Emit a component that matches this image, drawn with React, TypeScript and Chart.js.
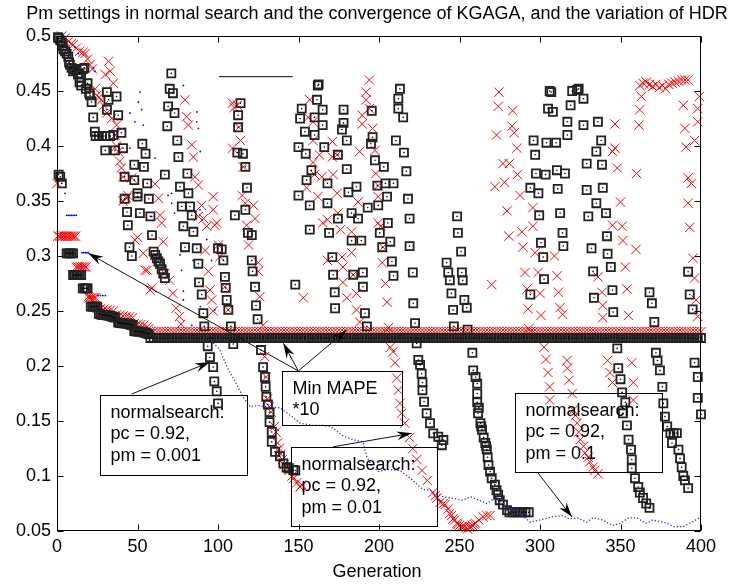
import React, { useEffect, useRef } from "react";
import { Chart, registerables } from "chart.js";

Chart.register(...registerables);

type P = [number, number];

const TITLE = "Pm settings in normal search and the convergence of KGAGA, and the variation of HDR";
const X_LABEL = "Generation";
const xTickValues = [0, 50, 100, 150, 200, 250, 300, 350, 400];
const xTickLabels = ["0", "50", "100", "150", "200", "250", "300", "350", "400"];
const yTickValues = [0.05, 0.1, 0.15, 0.2, 0.25, 0.3, 0.35, 0.4, 0.45, 0.5];
const yTickLabels = ["0.05", "0.1", "0.15", "0.2", "0.25", "0.3", "0.35", "0.4", "0.45", "0.5"];

// ---------- black squares (Pm settings) ----------
const sqStairs: P[] = [
  [1, 0.374], [2, 0.372], [3, 0.366],
  [6, 0.3024], [7, 0.3024], [8, 0.3024], [9, 0.3024], [10, 0.3024],
  [10, 0.2827], [11, 0.2827], [12, 0.2827], [13, 0.2827], [14, 0.2827], [15, 0.2827],
  [16, 0.2706], [17, 0.2706], [18, 0.2706], [19, 0.2706],
  [21, 0.254], [22, 0.254], [23, 0.254], [24, 0.254], [25, 0.254],
  [26, 0.2475], [27, 0.247], [28, 0.2465], [29, 0.2464], [30, 0.2464], [31, 0.246], [32, 0.2458], [33, 0.2455], [34, 0.245], [35, 0.2445], [36, 0.244],
  [38, 0.2395], [39, 0.2392], [40, 0.239], [41, 0.2388], [42, 0.2388], [43, 0.2386], [44, 0.2384], [45, 0.238], [46, 0.2375], [47, 0.237],
  [48, 0.2318], [49, 0.2315], [50, 0.2314], [51, 0.2312], [52, 0.2312], [53, 0.231], [54, 0.2305], [55, 0.23], [56, 0.2295], [57, 0.229]
];
const sqRun1: P[] = [
  [0.6, 0.499], [1, 0.498], [2, 0.496], [3, 0.494], [3.5, 0.491], [4, 0.488], [5, 0.486], [6, 0.484], [7, 0.481], [7.5, 0.476],
  [8, 0.474], [9, 0.471], [10, 0.468], [11, 0.47], [12, 0.469], [13, 0.465], [14, 0.466], [15, 0.462], [16, 0.47], [17, 0.471],
  [14, 0.458], [15, 0.455], [18, 0.452], [19, 0.457], [20, 0.448], [20.5, 0.446], [21.5, 0.44], [31, 0.449], [32, 0.442], [37, 0.445],
  [31, 0.433], [38, 0.428], [22.5, 0.426], [23.5, 0.413], [24, 0.409], [26, 0.409], [28, 0.409], [30, 0.409], [33, 0.409], [30, 0.396],
  [35, 0.41], [40, 0.412], [36, 0.396], [41, 0.398], [53, 0.402], [55, 0.393], [48, 0.383], [54, 0.381], [42, 0.372], [48, 0.369],
  [56, 0.366], [50, 0.357], [42, 0.352], [50, 0.354], [57, 0.352], [43.5, 0.34], [51.5, 0.339], [58, 0.336], [44, 0.328], [59, 0.319],
  [45, 0.308], [46.5, 0.3], [60, 0.304], [61, 0.301], [62, 0.298], [63, 0.295], [64, 0.293], [65, 0.288], [66, 0.284], [67, 0.28]
];
const sqRun2: P[] = [
  [71, 0.466], [70, 0.452], [72, 0.448], [69, 0.436], [73, 0.43], [68.5, 0.418], [74.7, 0.405], [75.4, 0.39], [67, 0.374], [81, 0.375],
  [76.4, 0.363], [81.6, 0.357], [77.5, 0.345], [82.6, 0.345], [83.7, 0.337], [78.5, 0.327], [84.7, 0.322], [79.5, 0.308], [86.8, 0.307], [87.8, 0.293],
  [88.2, 0.276], [89.9, 0.265], [90.9, 0.248], [91.5, 0.236], [93.6, 0.218], [95, 0.208], [97, 0.199], [97.7, 0.186], [99.2, 0.177], [100, 0.166]
];
const sqRun3: P[] = [
  [100, 0.307], [102.3, 0.306], [103.3, 0.296], [104.3, 0.281], [104.8, 0.271], [105.4, 0.26], [106.4, 0.251], [108, 0.236], [109.5, 0.22],
  [114, 0.439], [112.5, 0.428], [112.5, 0.417], [112, 0.394], [115.5, 0.393], [117, 0.381], [118, 0.362], [117, 0.342], [110.5, 0.337],
  [118.6, 0.321], [121, 0.319], [121, 0.296], [121.5, 0.286], [123, 0.272], [123.6, 0.255], [124.6, 0.2425], [126.7, 0.2145], [128, 0.199],
  [129.2, 0.19], [129.6, 0.181], [130, 0.172], [131, 0.165], [132, 0.158], [132, 0.149], [133.4, 0.14], [133.4, 0.131], [135.4, 0.122],
  [138.5, 0.118], [140.6, 0.1115], [142.6, 0.108], [144, 0.107], [146.8, 0.1055], [148, 0.105]
];
const sqRun4: P[] = [
  [162, 0.455], [162.5, 0.456], [161.5, 0.442], [152, 0.434], [165, 0.433], [151, 0.425], [160, 0.426], [165, 0.419], [154, 0.413], [160, 0.41],
  [150, 0.399], [154.5, 0.393], [166, 0.399], [178, 0.433], [178, 0.421], [177, 0.415], [180, 0.405], [174.5, 0.392], [158, 0.378], [155, 0.369],
  [168, 0.366], [180, 0.379], [186, 0.363], [150, 0.355], [181, 0.358], [157, 0.346], [168, 0.348], [157, 0.324], [169, 0.321], [174.5, 0.334],
  [183, 0.339], [187, 0.334], [183, 0.314], [189, 0.314], [171, 0.299], [171.5, 0.283], [184, 0.283], [190, 0.285], [190, 0.272], [172.5, 0.267],
  [172.7, 0.2525], [148, 0.274], [191.3, 0.248], [192.5, 0.236]
];
const sqRun5: P[] = [
  [213, 0.452], [212, 0.443], [212, 0.434], [215, 0.426], [210.5, 0.405], [215.5, 0.394], [217, 0.377], [195.5, 0.432], [196, 0.408], [195, 0.402],
  [197.5, 0.387], [203, 0.381], [199, 0.364], [204, 0.366], [209, 0.366], [205, 0.354], [218, 0.352], [199.5, 0.346], [193, 0.344], [205.5, 0.33],
  [200.5, 0.321], [207, 0.313], [202, 0.308], [208, 0.295], [209, 0.282], [219, 0.334], [219, 0.309], [221, 0.285], [221.3, 0.257], [222.4, 0.239],
  [223.4, 0.2206], [224.4, 0.2055], [225.5, 0.201], [226.5, 0.193], [227, 0.185], [227, 0.178], [228, 0.1675], [229.6, 0.157], [231.7, 0.148],
  [233.7, 0.1388], [236.8, 0.1357], [240, 0.1327], [239, 0.128]
];
const sqRun6: P[] = [
  [248.5, 0.336], [249, 0.321], [251, 0.304], [242, 0.294], [243, 0.285], [251.5, 0.285], [252, 0.278], [244, 0.278], [245, 0.266], [253, 0.26],
  [246, 0.251], [254.5, 0.253], [246.5, 0.236], [255, 0.233], [258, 0.212], [258.5, 0.196], [260, 0.19], [261, 0.184], [261, 0.175], [261, 0.167],
  [261.5, 0.157], [262, 0.162], [263, 0.148], [263.5, 0.145], [264, 0.142], [265, 0.135], [266, 0.13], [266.5, 0.127], [267, 0.124], [267.5, 0.117],
  [268, 0.11], [269, 0.104], [270, 0.098], [272, 0.092], [273, 0.087], [274, 0.083], [275, 0.078], [277, 0.074], [279.5, 0.069], [281, 0.067],
  [283, 0.067], [285, 0.067], [287, 0.067], [289, 0.067], [291, 0.067], [293, 0.067]
];
const sqRun7: P[] = [
  [307, 0.449], [306, 0.45], [320, 0.45], [323, 0.451], [324, 0.452], [327, 0.443], [319, 0.437], [305, 0.434], [308, 0.431], [317, 0.422],
  [327, 0.419], [336, 0.422], [317, 0.41], [296, 0.405], [304, 0.403], [310, 0.403], [338, 0.405], [335, 0.395], [297, 0.392], [329, 0.384],
  [338.5, 0.383], [297.5, 0.375], [303.5, 0.374], [310.5, 0.378], [315.5, 0.375], [294, 0.362], [299, 0.357], [311, 0.361], [329, 0.36], [339, 0.362],
  [299.5, 0.337], [312.5, 0.339], [330, 0.336], [335, 0.348], [341, 0.339], [314, 0.321], [300.6, 0.312], [314.5, 0.309], [341.6, 0.318], [302, 0.299],
  [332, 0.307], [342, 0.302], [344, 0.29], [333, 0.286], [302.5, 0.279], [294, 0.265], [333.5, 0.262], [345, 0.269], [345.5, 0.249], [348, 0.216],
  [348.6, 0.198], [350, 0.188], [351, 0.176], [353, 0.167], [351.5, 0.157], [354, 0.146], [355, 0.133], [356.5, 0.124], [357, 0.115], [357, 0.107],
  [359, 0.098], [361, 0.09], [362, 0.085], [364, 0.08], [366, 0.075], [368, 0.071]
];
const sqRun8: P[] = [
  [368, 0.267], [369.5, 0.257], [371, 0.24], [372, 0.212], [373, 0.205], [374.5, 0.196], [376, 0.181], [376.6, 0.166], [377.6, 0.154], [379, 0.145],
  [381, 0.139], [383, 0.139], [385, 0.139], [382, 0.13], [386, 0.124], [387, 0.116], [388, 0.108], [389, 0.1], [390, 0.096], [392, 0.089]
];
const sqRun9: P[] = [
  [392, 0.2857], [393, 0.265], [394.8, 0.2515], [396, 0.203], [398, 0.19], [398, 0.171], [400, 0.156]
];
// converged band of squares, every 2nd generation from 58 to 400
const sqBandStart = 58;
const sqBandY = [
  0.2255, 0.2255, 0.2255, 0.2255, 0.2255, 0.2255, 0.2255, 0.2255, 0.2255, 0.2255, 0.2255, 0.2255, 0.2255, 0.2255, 0.2255, 0.2255, 0.2255, 0.2255, 0.2255, 0.2255,
  0.2255, 0.2255, 0.2255, 0.2255, 0.2255, 0.2255, 0.2255, 0.2255, 0.2255, 0.2255, 0.2255, 0.2255, 0.2255, 0.2255, 0.2255, 0.2255, 0.2255, 0.2255, 0.2255, 0.2255,
  0.2255, 0.2255, 0.2255, 0.2255, 0.2255, 0.2255, 0.2255, 0.2255, 0.2255, 0.2255, 0.2255, 0.2255, 0.2255, 0.2255, 0.2255, 0.2255, 0.2255, 0.2255, 0.2255, 0.2255,
  0.2255, 0.2255, 0.2255, 0.2255, 0.2255, 0.2255, 0.2255, 0.2255, 0.2255, 0.2255, 0.2255, 0.2255, 0.2255, 0.2255, 0.2255, 0.2255, 0.2255, 0.2255, 0.2255, 0.2255,
  0.2255, 0.2255, 0.2255, 0.2255, 0.2255, 0.2255, 0.2255, 0.2255, 0.2255, 0.2255, 0.2255, 0.2255, 0.2255, 0.2255, 0.2255, 0.2255, 0.2255, 0.2255, 0.2255, 0.2255,
  0.2255, 0.2255, 0.2255, 0.2255, 0.2255, 0.2255, 0.2255, 0.2255, 0.2255, 0.2255, 0.2255, 0.2255, 0.2255, 0.2255, 0.2255, 0.2255, 0.2255, 0.2255, 0.2255, 0.2255,
  0.2255, 0.2255, 0.2255, 0.2255, 0.2255, 0.2255, 0.2255, 0.2255, 0.2255, 0.2255, 0.2255, 0.2255, 0.2255, 0.2255, 0.2255, 0.2255, 0.2255, 0.2255, 0.2255, 0.2255,
  0.2255, 0.2255, 0.2255, 0.2255, 0.2255, 0.2255, 0.2255, 0.2255, 0.2255, 0.2255, 0.2255, 0.2255, 0.2255, 0.2255, 0.2255, 0.2255, 0.2255, 0.2255, 0.2255, 0.2255,
  0.2255, 0.2255, 0.2255, 0.2255, 0.2255, 0.2255, 0.2255, 0.2255, 0.2255, 0.2255, 0.2255, 0.2255
];

// ---------- red crosses (KGAGA convergence) ----------
const xStairs: P[] = [
  [0, 0.366],
  [0.5, 0.318], [1.5, 0.318], [2.5, 0.318], [3.5, 0.318], [4.5, 0.318], [5.5, 0.318], [6.5, 0.318], [7.5, 0.318], [8.5, 0.318], [9.5, 0.318], [10.5, 0.318], [11.5, 0.318],
  [12, 0.29], [13, 0.29], [14, 0.29], [15, 0.29], [16, 0.29], [17, 0.29], [18, 0.29],
  [19.5, 0.263], [20, 0.262], [21, 0.262], [22, 0.262], [23, 0.262], [24, 0.262],
  [25, 0.2525], [27, 0.252], [29, 0.2515], [31, 0.251], [33, 0.2505], [35, 0.25], [37, 0.2465], [39, 0.246], [41, 0.2455], [43, 0.245], [45, 0.2445], [47, 0.244],
  [48, 0.2385], [50, 0.238], [52, 0.2375], [54, 0.237], [56, 0.2355], [57, 0.234]
];
const xRun1: P[] = [
  [3, 0.5], [5, 0.498], [7, 0.495], [9, 0.493], [10, 0.492], [12, 0.489], [14, 0.486], [16, 0.485], [17.4, 0.484], [19, 0.479],
  [20.5, 0.474], [22, 0.47], [32, 0.477], [33, 0.468], [30, 0.465], [35, 0.457], [23.6, 0.452], [24.7, 0.446], [26, 0.444], [27.7, 0.442],
  [29, 0.437], [31, 0.43], [34, 0.425], [37, 0.419], [36, 0.41], [37, 0.4], [38, 0.395], [40, 0.38], [39, 0.386], [41, 0.372],
  [46.4, 0.371], [43.3, 0.3525], [41, 0.35], [44, 0.355], [61, 0.3655], [63, 0.3525], [64, 0.337], [65, 0.33], [66, 0.313], [48.4, 0.3145],
  [50, 0.317], [53.6, 0.3025], [54.7, 0.287], [56, 0.287], [57.8, 0.269], [59, 0.271], [67, 0.284], [70, 0.278], [72, 0.266], [74, 0.2525],
  [76, 0.245], [77, 0.238]
];
const xRun2: P[] = [
  [79.5, 0.442], [80.5, 0.4266], [81.6, 0.419], [83.7, 0.401], [84.7, 0.39], [85.7, 0.372], [87.8, 0.3645], [89.8, 0.346], [87.8, 0.336], [97, 0.354],
  [97, 0.342], [99.2, 0.33], [98, 0.328], [93, 0.327], [91, 0.334], [92, 0.305], [94, 0.286], [95, 0.269], [100.2, 0.31], [101.2, 0.2994],
  [104.3, 0.272], [106.4, 0.251], [96, 0.26], [97, 0.25]
];
const xRun3: P[] = [
  [109, 0.439], [110, 0.435], [112, 0.437], [113, 0.417], [114, 0.405], [109, 0.398], [115.7, 0.381], [115, 0.355], [117, 0.348], [122, 0.346],
  [117.8, 0.328], [123, 0.334], [119, 0.31], [125, 0.294], [125, 0.286], [126, 0.263], [128, 0.237], [129, 0.2085], [130, 0.19], [130.6, 0.17],
  [132, 0.163], [133, 0.158], [135, 0.145], [136, 0.14], [137, 0.13], [138, 0.125], [139, 0.12], [140, 0.115], [141, 0.11], [143, 0.107],
  [144, 0.105], [146, 0.1], [147, 0.098], [149, 0.094], [151, 0.09], [152, 0.092]
];
const xRun4: P[] = [
  [157, 0.442], [156, 0.426], [159, 0.422], [159, 0.405], [163, 0.392], [171, 0.404], [171, 0.39], [174, 0.392], [159, 0.385], [160, 0.374],
  [164.5, 0.372], [171.5, 0.374], [155, 0.362], [162, 0.354], [174, 0.357], [168, 0.333], [174.5, 0.339], [176, 0.324], [165, 0.33], [168, 0.296],
  [177, 0.299], [183, 0.303], [177.6, 0.29], [177.6, 0.276], [184, 0.283], [180, 0.262], [186, 0.266], [186, 0.251], [153, 0.262], [183, 0.322],
  [187, 0.349], [188, 0.24]
];
const xRun5: P[] = [
  [194, 0.46], [192, 0.449], [192, 0.442], [194, 0.434], [189.6, 0.428], [189.6, 0.42], [196, 0.416], [188, 0.395], [197.5, 0.396], [198, 0.375],
  [199.5, 0.364], [199.5, 0.354], [199.5, 0.33], [201, 0.327], [202.5, 0.308], [202, 0.294], [204, 0.275], [205, 0.258], [206, 0.235], [207, 0.217],
  [208.7, 0.213], [210, 0.203], [211, 0.189], [212, 0.178], [213, 0.166], [214, 0.157], [216, 0.148], [219, 0.135], [221, 0.125], [223.5, 0.115],
  [226.7, 0.105], [230, 0.096], [233.5, 0.085], [235, 0.082], [236, 0.08], [238, 0.076], [240, 0.075], [241, 0.074], [243, 0.07], [244, 0.066],
  [245, 0.064], [246, 0.061], [247, 0.06], [248.4, 0.057], [249, 0.056], [250, 0.055], [251, 0.054], [252, 0.054], [253, 0.054], [254, 0.053],
  [255, 0.052], [256.5, 0.053], [257, 0.054], [258, 0.055], [259, 0.056], [260, 0.057], [262, 0.06], [264.6, 0.063], [267, 0.064], [269, 0.064]
];
const xRun6: P[] = [
  [274.5, 0.449], [274, 0.436], [283, 0.432], [282.6, 0.418], [273, 0.41], [284, 0.412], [285.7, 0.398], [277, 0.384], [281, 0.384], [286, 0.374],
  [278, 0.367], [272, 0.363], [287.6, 0.355], [279.5, 0.341], [288.8, 0.322], [280.7, 0.318], [295.6, 0.344], [295.6, 0.327], [289.4, 0.308], [297, 0.303],
  [309, 0.3], [290.7, 0.285], [298.8, 0.285], [310.6, 0.282], [292, 0.27], [300, 0.266], [311.5, 0.267], [292.6, 0.252], [300.6, 0.246], [312.4, 0.253],
  [314, 0.247], [270, 0.274], [293, 0.234], [302.5, 0.217], [303.7, 0.206], [305, 0.194], [306, 0.181], [306, 0.169], [316.8, 0.205], [317, 0.198],
  [318, 0.187], [320, 0.175], [320.7, 0.16], [322, 0.155], [323, 0.148], [324, 0.14], [325, 0.133], [327, 0.127], [328, 0.121], [330, 0.117],
  [331, 0.113], [333, 0.108], [334, 0.105], [336, 0.102]
];
const xRun7: P[] = [
  [336, 0.281], [338.5, 0.267], [339, 0.255], [339, 0.244], [342, 0.205], [343.5, 0.194], [345, 0.185], [350, 0.349], [345, 0.328], [351, 0.327],
  [351.5, 0.314], [359.6, 0.306], [353, 0.29], [354, 0.27], [355, 0.246], [357, 0.203], [358, 0.185], [358, 0.169], [346.6, 0.42], [346.6, 0.398],
  [348, 0.38], [360, 0.375], [345, 0.395]
];
const xRun8: P[] = [
  [362, 0.455], [364, 0.457], [366, 0.458], [368, 0.456], [370, 0.454], [372, 0.456], [374, 0.453], [376, 0.455], [378, 0.452], [380, 0.456],
  [382, 0.457], [384, 0.458], [386, 0.459], [388, 0.46], [390, 0.46], [392, 0.46], [363, 0.445], [362, 0.433], [361.5, 0.419], [389, 0.437],
  [390, 0.416], [390.7, 0.399], [392, 0.371], [394, 0.366], [399, 0.445], [398, 0.434], [398, 0.422], [396, 0.405], [392, 0.348], [393, 0.326],
  [395, 0.298], [396, 0.28], [397, 0.26], [398, 0.245]
];
const xBandStart = 58;
const xBandY = [
  0.2312, 0.2312, 0.2312, 0.2312, 0.2312, 0.2312, 0.2312, 0.2312, 0.2312, 0.2312, 0.2312, 0.2312, 0.2312, 0.2312, 0.2312, 0.2312, 0.2312, 0.2312, 0.2312, 0.2312,
  0.2312, 0.2312, 0.2312, 0.2312, 0.2312, 0.2312, 0.2312, 0.2312, 0.2312, 0.2312, 0.2312, 0.2312, 0.2312, 0.2312, 0.2312, 0.2312, 0.2312, 0.2312, 0.2312, 0.2312,
  0.2312, 0.2312, 0.2312, 0.2312, 0.2312, 0.2312, 0.2312, 0.2312, 0.2312, 0.2312, 0.2312, 0.2312, 0.2312, 0.2312, 0.2312, 0.2312, 0.2312, 0.2312, 0.2312, 0.2312,
  0.2312, 0.2312, 0.2312, 0.2312, 0.2312, 0.2312, 0.2312, 0.2312, 0.2312, 0.2312, 0.2312, 0.2312, 0.2312, 0.2312, 0.2312, 0.2312, 0.2312, 0.2312, 0.2312, 0.2312,
  0.2312, 0.2312, 0.2312, 0.2312, 0.2312, 0.2312, 0.2312, 0.2312, 0.2312, 0.2312, 0.2312, 0.2312, 0.2312, 0.2312, 0.2312, 0.2312, 0.2312, 0.2312, 0.2312, 0.2312,
  0.2312, 0.2312, 0.2312, 0.2312, 0.2312, 0.2312, 0.2312, 0.2312, 0.2312, 0.2312, 0.2312, 0.2312, 0.2312, 0.2312, 0.2312, 0.2312, 0.2312, 0.2312, 0.2312, 0.2312,
  0.2312, 0.2312, 0.2312, 0.2312, 0.2312, 0.2312, 0.2312, 0.2312, 0.2312, 0.2312, 0.2312, 0.2312, 0.2312, 0.2312, 0.2312, 0.2312, 0.2312, 0.2312, 0.2312, 0.2312,
  0.2312, 0.2312, 0.2312, 0.2312, 0.2312, 0.2312, 0.2312, 0.2312, 0.2312, 0.2312, 0.2312, 0.2312, 0.2312, 0.2312, 0.2312, 0.2312, 0.2312, 0.2312, 0.2312, 0.2312,
  0.2312, 0.2312, 0.2312, 0.2312, 0.2312, 0.2312, 0.2312, 0.2312, 0.2312, 0.2312, 0.2312, 0.2312
];

// ---------- blue dots (HDR / Min MAPE*10) ----------
const hdrDots: P[] = [
  [5, 0.357], [6, 0.337], [7, 0.337], [8, 0.337], [9, 0.337], [10, 0.337], [11, 0.337], [12, 0.337],
  [11.2, 0.49], [13.2, 0.484], [22.6, 0.471], [23.6, 0.468],
  [15.5, 0.303], [16.5, 0.303], [17.5, 0.303], [18.5, 0.303], [19.3, 0.303],
  [25.5, 0.264], [27, 0.264], [28.5, 0.264], [30, 0.264],
  [51.6, 0.449], [50.5, 0.44], [52.6, 0.433], [45.3, 0.43], [48.4, 0.422], [53.6, 0.419], [42.2, 0.416], [35, 0.412], [45.3, 0.398],
  [78.5, 0.455], [86.8, 0.422], [87.8, 0.416], [60.9, 0.389], [71.2, 0.357], [71.2, 0.348], [58.8, 0.336], [88.8, 0.342],
  [76.4, 0.301], [77.4, 0.287], [78.5, 0.268], [78.5, 0.26], [93, 0.315], [96, 0.296], [98, 0.251], [89, 0.254], [83.7, 0.237],
  [87, 0.431], [89, 0.395], [69, 0.355], [73, 0.339], [77.5, 0.324], [84.5, 0.296]
];
const mapeTrace: P[] = [
  [97, 0.221], [101, 0.215], [106, 0.198], [109, 0.19], [111, 0.185], [115.5, 0.172], [120, 0.163], [125, 0.164], [130, 0.163], [138.5, 0.162],
  [145, 0.155], [151, 0.148], [159, 0.146], [165, 0.146], [170, 0.145], [178, 0.136], [184, 0.133], [190, 0.131], [192.5, 0.117], [196, 0.108],
  [200, 0.104], [205, 0.106], [213, 0.105], [221, 0.096], [227, 0.088], [232, 0.087], [240, 0.081], [245, 0.08], [252, 0.078], [257, 0.081],
  [262, 0.078], [267, 0.075], [272, 0.08], [280, 0.072], [287.5, 0.066], [294, 0.058], [300, 0.06], [308, 0.063], [314, 0.064], [318, 0.061],
  [323, 0.062], [329, 0.058], [333, 0.062], [339, 0.06], [345, 0.055], [350, 0.057], [355, 0.062], [360, 0.062], [366, 0.057], [370, 0.06],
  [379, 0.057], [383, 0.054], [389, 0.054], [393, 0.057], [399, 0.062]
];
const markerLine: P[] = [[100.6, 0.463], [146.4, 0.463]];

// ---------- annotations ----------
const noteTexts = {
  pm001: ["normalsearch:", "pc = 0.92,", "pm = 0.001"],
  mape: ["Min MAPE", "*10"],
  pm01: ["normalsearch:", "pc = 0.92,", "pm = 0.01"],
  pm1: ["normalsearch:", "pc = 0.92,", "pm = 0.1"]
};
const notes = [
  { box: [26.7, 0.1736, 118.0, 0.1009], text: noteTexts.pm001, arrows: [[46.4, 0.1745, 95.0, 0.2036]] },
  { box: [139.6, 0.1955, 214.1, 0.1464], text: noteTexts.mape, arrows: [[149.9, 0.1955, 19.4, 0.3025], [149.9, 0.1955, 140.6, 0.2206], [149.9, 0.1955, 179.9, 0.2327]] },
  { box: [145.2, 0.1266, 236.2, 0.0545], text: noteTexts.pm01, arrows: [[171.6, 0.1266, 220.3, 0.1388]] },
  { box: [284.5, 0.1755, 375.8, 0.1036], text: noteTexts.pm1, arrows: [[298.8, 0.1027, 319.9, 0.0627]] }
];

const FONT = '"Liberation Sans", Arial, Helvetica, sans-serif';

const toXY = (arr: P[]) => arr.map(([x, y]) => ({ x, y }));
const bandXY = (start: number, ys: number[]) => ys.map((y, i) => ({ x: start + 2 * i, y }));

function drawArrow(ctx: CanvasRenderingContext2D, x1: number, y1: number, x2: number, y2: number) {
  ctx.beginPath();
  ctx.moveTo(x1, y1);
  ctx.lineTo(x2, y2);
  ctx.stroke();
  const a = Math.atan2(y2 - y1, x2 - x1);
  const L = 15, W = 4.5, N = 10;
  const c = Math.cos(a), s = Math.sin(a);
  const bx = x2 - L * c, by = y2 - L * s;
  const nx = x2 - N * c, ny = y2 - N * s;
  ctx.beginPath();
  ctx.moveTo(x2, y2);
  ctx.lineTo(bx - W * s, by + W * c);
  ctx.lineTo(nx, ny);
  ctx.lineTo(bx + W * s, by - W * c);
  ctx.closePath();
  ctx.fill();
}

const decorPlugin = {
  id: "decor",
  afterDatasetsDraw(chart: any) {
    const { ctx, chartArea: a, scales } = chart;
    const X = (v: number) => scales.x.getPixelForValue(v);
    const Y = (v: number) => scales.y.getPixelForValue(v);
    ctx.save();
    ctx.strokeStyle = "#000";
    ctx.fillStyle = "#000";
    ctx.lineWidth = 1;
    const l = Math.round(a.left) + 0.5, r = Math.round(a.right) - 0.5;
    const t = Math.round(a.top) + 0.5, b = Math.round(a.bottom) - 0.5;
    ctx.strokeRect(l, t, r - l, b - t);
    const tl = 6;
    ctx.beginPath();
    xTickValues.forEach((v) => {
      const px = Math.round(X(v)) + 0.5;
      ctx.moveTo(px, b); ctx.lineTo(px, b - tl);
      ctx.moveTo(px, t); ctx.lineTo(px, t + tl);
    });
    yTickValues.forEach((v) => {
      const py = Math.round(Y(v)) + 0.5;
      ctx.moveTo(l, py); ctx.lineTo(l + tl, py);
      ctx.moveTo(r, py); ctx.lineTo(r - tl, py);
    });
    ctx.stroke();

    ctx.font = `18px ${FONT}`;
    ctx.textBaseline = "middle";
    ctx.textAlign = "center";
    const cx = (a.left + a.right) / 2;
    ctx.fillText(TITLE, cx - 2, 14);
    ctx.fillText(X_LABEL, cx - 2, 572);

    // annotations
    ctx.textAlign = "left";
    ctx.lineWidth = 1;
    notes.forEach((n) => {
      const x1 = Math.round(X(n.box[0])) + 0.5, y1 = Math.round(Y(n.box[1])) + 0.5;
      const x2 = Math.round(X(n.box[2])) + 0.5, y2 = Math.round(Y(n.box[3])) + 0.5;
      ctx.strokeStyle = "#000";
      ctx.strokeRect(x1, y1, x2 - x1, y2 - y1);
      n.text.forEach((line, i) => ctx.fillText(line, x1 + 10, y1 + 17.5 + i * 21.5));
      ctx.strokeStyle = "#111";
      n.arrows.forEach((ar) => drawArrow(ctx, X(ar[0]), Y(ar[1]), X(ar[2]), Y(ar[3])));
    });
    ctx.restore();
  }
};

export default function App() {
  const ref = useRef<HTMLCanvasElement | null>(null);
  useEffect(() => {
    document.body.style.margin = "0";
    const canvas = ref.current;
    if (!canvas) return;
    const sqAll = [
      ...toXY(sqStairs), ...toXY(sqRun1), ...toXY(sqRun2), ...toXY(sqRun3), ...toXY(sqRun4), ...toXY(sqRun5),
      ...toXY(sqRun6), ...toXY(sqRun7), ...toXY(sqRun8), ...toXY(sqRun9), ...bandXY(sqBandStart, sqBandY)
    ];
    const xAll = [
      ...toXY(xStairs), ...toXY(xRun1), ...toXY(xRun2), ...toXY(xRun3), ...toXY(xRun4), ...toXY(xRun5),
      ...toXY(xRun6), ...toXY(xRun7), ...toXY(xRun8), ...bandXY(xBandStart, xBandY)
    ];
    const chart = new Chart(canvas, {
      type: "scatter",
      data: {
        datasets: [
          {
            label: "HDR",
            data: toXY(hdrDots),
            pointStyle: "circle",
            pointRadius: 0.9,
            pointBorderWidth: 0,
            pointBackgroundColor: "#0000ff",
            clip: false
          } as any,
          {
            label: "Min MAPE*10",
            data: toXY(mapeTrace),
            showLine: true,
            borderColor: "#2030ff",
            borderWidth: 1.3,
            borderDash: [1.3, 2],
            pointRadius: 0,
            tension: 0,
            clip: false
          } as any,
          {
            label: "centres",
            data: sqAll,
            pointStyle: "circle",
            pointRadius: 0.8,
            pointBorderWidth: 0,
            pointBackgroundColor: "#000",
            clip: false
          } as any,
          {
            label: "Pm",
            data: sqAll,
            pointStyle: "rect",
            pointRadius: 5.7,
            pointBorderWidth: 1.8,
            pointBorderColor: "#222",
            pointBackgroundColor: "rgba(0,0,0,0)",
            clip: false
          } as any,
          {
            label: "KGAGA",
            data: xAll,
            pointStyle: "crossRot",
            pointRadius: 6.6,
            pointBorderWidth: 1,
            pointBorderColor: "#ff0000",
            pointBackgroundColor: "#ff0000",
            clip: false
          } as any,
          {
            label: "mark",
            data: toXY(markerLine),
            showLine: true,
            borderColor: "#000",
            borderWidth: 1,
            pointRadius: 0,
            clip: false
          } as any
        ]
      },
      options: {
        responsive: false,
        animation: false,
        devicePixelRatio: 1,
        events: [],
        layout: { padding: { top: 36, right: 40, left: 0, bottom: 0 } },
        plugins: { legend: { display: false }, tooltip: { enabled: false }, title: { display: false } },
        scales: {
          x: {
            type: "linear",
            min: 0,
            max: 400,
            grid: { display: false, drawTicks: false },
            border: { display: false },
            afterBuildTicks: (s: any) => { s.ticks = xTickValues.map((v) => ({ value: v })); },
            afterFit: (s: any) => { s.height = 53; },
            ticks: {
              padding: 5,
              autoSkip: false,
              maxRotation: 0,
              color: "#000",
              font: { family: FONT, size: 18 },
              callback: (_v: any, i: number) => xTickLabels[i]
            }
          },
          y: {
            type: "linear",
            min: 0.05,
            max: 0.5,
            grid: { display: false, drawTicks: false },
            border: { display: false },
            afterBuildTicks: (s: any) => { s.ticks = yTickValues.map((v) => ({ value: v })); },
            afterFit: (s: any) => { s.width = 57; },
            ticks: {
              padding: 6,
              autoSkip: false,
              color: "#000",
              font: { family: FONT, size: 18 },
              callback: (_v: any, i: number) => yTickLabels[i]
            }
          }
        }
      },
      plugins: [decorPlugin]
    } as any);
    return () => chart.destroy();
  }, []);
  return (
    <div style={{ width: 741, height: 584, background: "#fff" }}>
      <canvas ref={ref} width={741} height={584} style={{ display: "block", width: 741, height: 584 }} />
    </div>
  );
}
